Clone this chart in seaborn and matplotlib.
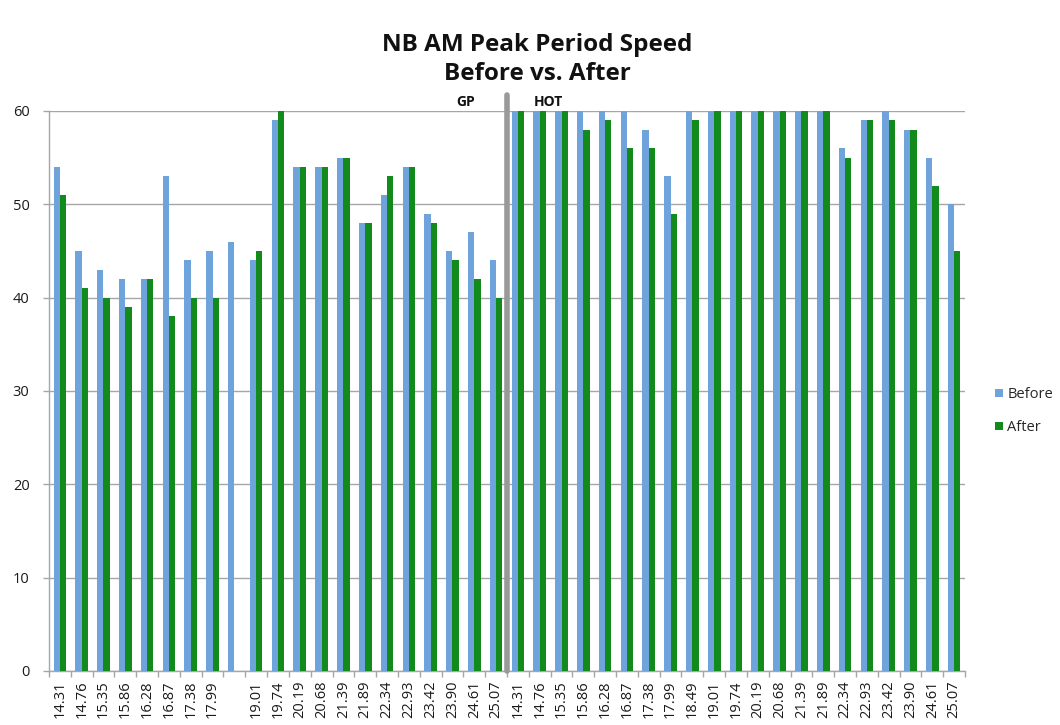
import numpy as np
import pandas as pd
import matplotlib
matplotlib.use("Agg")
import matplotlib.pyplot as plt
from matplotlib.lines import Line2D
import seaborn as sns

# Mileposts along the corridor, general-purpose lanes then HOT lanes
gp_mileposts = ["14.31", "14.76", "15.35", "15.86", "16.28", "16.87", "17.38", "17.99", "",
                "19.01", "19.74", "20.19", "20.68", "21.39", "21.89", "22.34", "22.93",
                "23.42", "23.90", "24.61", "25.07"]
hot_mileposts = ["14.31", "14.76", "15.35", "15.86", "16.28", "16.87", "17.38", "17.99", "18.49",
                 "19.01", "19.74", "20.19", "20.68", "21.39", "21.89", "22.34", "22.93",
                 "23.42", "23.90", "24.61", "25.07"]

# Average speeds (mph)
gp_before = [54, 45, 43, 42, 42, 53, 44, 45, 46, 44, 59, 54, 54, 55, 48, 51, 54, 49, 45, 47, 44]
gp_after = [51, 41, 40, 39, 42, 38, 40, 40, np.nan, 45, 60, 54, 54, 55, 48, 53, 54, 48, 44, 42, 40]
hot_before = [60, 60, 60, 60, 60, 60, 58, 53, 60, 60, 60, 60, 60, 60, 60, 56, 59, 60, 58, 55, 50]
hot_after = [60, 60, 60, 58, 59, 56, 56, 49, 59, 60, 60, 60, 60, 60, 60, 55, 59, 59, 58, 52, 45]

series_names = ["Before", "After"]
colors = {"Before": "#6ea3dc", "After": "#138b1c"}

labels = gp_mileposts + hot_mileposts
slots = [f"s{i:02d}" for i in range(len(labels))]
before = gp_before + hot_before
after = gp_after + hot_after

df = pd.concat([
    pd.DataFrame({"slot": slots, "series": "Before", "speed": before}),
    pd.DataFrame({"slot": slots, "series": "After", "speed": after}),
], ignore_index=True)

sns.set_theme(style="white")
plt.rcParams["font.family"] = ["Open Sans", "DejaVu Sans"]

fig = plt.figure(figsize=(10.6, 7.25), dpi=100)
ax = fig.add_axes([0.0462, 0.0745, 0.8642, 0.7724])

sns.barplot(data=df, x="slot", y="speed", hue="series", order=slots,
            hue_order=series_names, palette=colors, width=0.58, saturation=1,
            linewidth=0, errorbar=None, legend=False, ax=ax, zorder=3)

n = len(labels)
ax.set_xlim(-0.5, n - 0.5)
ax.set_ylim(0, 60)
ax.set_yticks(range(0, 61, 10))
ax.yaxis.grid(True, color="#a6a6a6", linewidth=1.0, zorder=0)
ax.set_axisbelow(True)

ax.set_xticks(range(n))
ax.set_xticklabels(labels, rotation=90, fontsize=10.5, color="#1a1a1a")
ax.set_xticks(np.arange(-0.5, n, 1), minor=True)
ax.tick_params(axis="x", which="major", length=0, pad=7)
ax.tick_params(axis="x", which="minor", length=4, color="#a6a6a6", width=1, direction="out", bottom=True)
ax.tick_params(axis="y", length=4, color="#a6a6a6", width=1, labelsize=10.5, labelcolor="#1a1a1a", pad=10, left=True)
ax.set_xlabel("")
ax.set_ylabel("")

for side in ["top", "right"]:
    ax.spines[side].set_visible(False)
for side in ["left", "bottom"]:
    ax.spines[side].set_color("#a6a6a6")
    ax.spines[side].set_linewidth(1.0)

# Divider between general-purpose and HOT lanes
split = len(gp_mileposts) - 0.5
ax.plot([split, split], [0, 61.7], color="#999999", linewidth=4, clip_on=False, zorder=4)
ax.text(split - 1.9, 60.2, "GP", ha="center", va="bottom", fontsize=10, fontweight="bold", color="#111111")
ax.text(split + 1.9, 60.2, "HOT", ha="center", va="bottom", fontsize=10, fontweight="bold", color="#111111")

fig.suptitle("NB AM Peak Period Speed\nBefore vs. After", x=0.507, y=0.955,
             fontsize=17.5, fontweight="bold", color="#111111", linespacing=1.32)

handles = [Line2D([], [], marker="s", linestyle="", markersize=6,
                  markerfacecolor=colors[s], markeredgewidth=0, label=s) for s in series_names]
fig.legend(handles=handles, loc="center left", bbox_to_anchor=(0.925, 0.433),
           frameon=False, fontsize=10.5, handletextpad=0.15, handlelength=0.8,
           labelspacing=1.2)

fig.savefig("out.png", dpi=100)
